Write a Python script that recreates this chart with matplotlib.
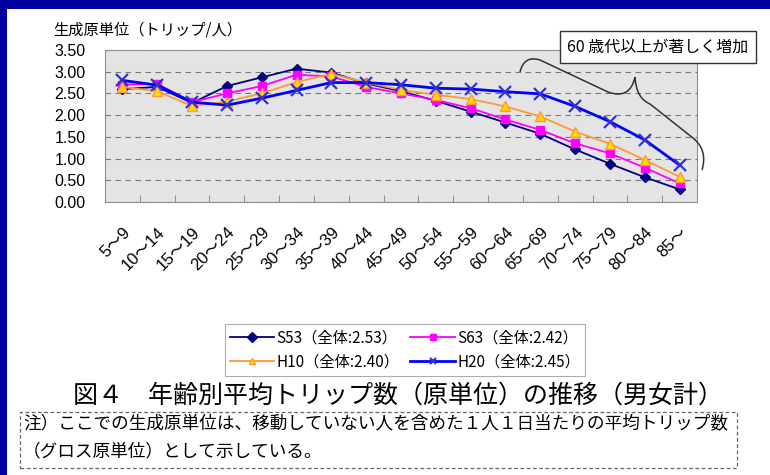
import matplotlib.pyplot as plt
import matplotlib.patches as mpatches
from matplotlib.path import Path

plt.rcParams['font.family'] = ['Noto Sans CJK JP', 'DejaVu Sans']

# age groups
ages = ['5～9', '10～14', '15～19', '20～24', '25～29', '30～34', '35～39', '40～44',
        '45～49', '50～54', '55～59', '60～64', '65～69', '70～74', '75～79', '80～84', '85～']

# trips per person
s53 = [2.60, 2.65, 2.28, 2.67, 2.87, 3.07, 2.98, 2.73, 2.55, 2.33, 2.08, 1.83, 1.57, 1.21, 0.88, 0.57, 0.29]
s63 = [2.70, 2.72, 2.30, 2.50, 2.67, 2.93, 2.89, 2.65, 2.50, 2.35, 2.16, 1.90, 1.66, 1.35, 1.12, 0.79, 0.43]
h10 = [2.65, 2.55, 2.21, 2.31, 2.50, 2.76, 2.95, 2.75, 2.58, 2.47, 2.37, 2.20, 1.97, 1.62, 1.34, 0.97, 0.58]
h20 = [2.80, 2.69, 2.30, 2.23, 2.39, 2.57, 2.75, 2.75, 2.70, 2.62, 2.60, 2.54, 2.49, 2.20, 1.85, 1.43, 0.85]

labels = ['S53（全体:2.53）', 'S63（全体:2.42）', 'H10（全体:2.40）', 'H20（全体:2.45）']

W, H = 770, 475
fig = plt.figure(figsize=(7.7, 4.75), dpi=100)
fig.patch.set_facecolor('white')

# blue frame (top and left)
fig.patches.append(mpatches.Rectangle((0, 1 - 9 / H), 1, 9 / H, transform=fig.transFigure,
                                      facecolor='#0000a0', edgecolor='none', zorder=0))
fig.patches.append(mpatches.Rectangle((0, 0), 7 / W, 1, transform=fig.transFigure,
                                      facecolor='#0000a0', edgecolor='none', zorder=0))

ax = fig.add_axes([105 / W, 1 - 202 / H, 592 / W, 152 / H])
ax.set_facecolor('#e4e4e4')

x = list(range(len(ages)))
l1, = ax.plot(x, s53, color='#000080', lw=1.3, marker='D', ms=5.5, mfc='#000080', mec='#000080', label=labels[0], zorder=3)
l2, = ax.plot(x, s63, color='#ff00ff', lw=1.3, marker='s', ms=6, mfc='#ff00ff', mec='#ff00ff', label=labels[1], zorder=3)
l3, = ax.plot(x, h10, color='#ff9933', lw=1.3, marker='^', ms=7, mfc='#ffdd00', mec='#ff9933', label=labels[2], zorder=3)
l4, = ax.plot(x, h20, color='#0000ff', lw=2.0, marker='x', ms=8, mew=1.6, mec='#3333cc', label=labels[3], zorder=3)

ax.set_xlim(-0.5, len(ages) - 0.5)
ax.set_ylim(0, 3.5)
ax.set_yticks([0, 0.5, 1.0, 1.5, 2.0, 2.5, 3.0, 3.5])
ax.set_yticklabels(['%.2f' % v for v in ax.get_yticks()], family='Liberation Sans', fontsize=11.5)
ax.set_xticks(x)
ax.set_xticklabels(ages, rotation=45, ha='right', rotation_mode='anchor', fontsize=12,
                   family=['Liberation Sans', 'Noto Sans CJK JP'])
ax.set_xticks([i + 0.5 for i in x[:-1]], minor=True)
ax.tick_params(axis='x', which='major', length=0, pad=16)
ax.tick_params(axis='x', which='minor', length=5, direction='in', color='#808080')
ax.tick_params(axis='y', length=0, pad=14)
for sp in ax.spines.values():
    sp.set_color('#909090')
ax.grid(axis='y', color='#777777', ls=(0, (5, 4)), lw=0.8)
ax.set_axisbelow(True)

fig.text(53 / W, 1 - 30 / H, '生成原単位（トリップ/人）', fontsize=11, va='center', ha='left')

# comment box and brace
fig.text(658 / W, 1 - 47 / H, '60 歳代以上が著しく増加', fontsize=11.5, ha='center', va='center',
         bbox=dict(boxstyle='square,pad=0.45', facecolor='white', edgecolor='#333333', lw=1))
pts = [(520, 72), (524, 55), (540, 60), (608, 92), (630, 100), (635, 77),
       (636, 98), (650, 104), (693, 138), (708, 150), (702, 170)]
codes = [Path.MOVETO, Path.CURVE3, Path.CURVE3, Path.LINETO, Path.CURVE3, Path.CURVE3,
         Path.CURVE3, Path.CURVE3, Path.LINETO, Path.CURVE3, Path.CURVE3]
brace = Path([(px / W, 1 - py / H) for px, py in pts], codes)
fig.patches.append(mpatches.PathPatch(brace, transform=fig.transFigure, facecolor='none',
                                      edgecolor='#333333', lw=1.1, zorder=5))

# legend: row 1 S53, S63 / row 2 H10, H20
leg = fig.legend([l1, l3, l2, l4], [labels[0], labels[2], labels[1], labels[3]],
                 loc='center', bbox_to_anchor=(405 / W, 1 - 350 / H), ncol=2, fontsize=11,
                 frameon=True, fancybox=False, edgecolor='#999999', handlelength=2.9,
                 columnspacing=0.7, handletextpad=0.15, borderpad=0.35, labelspacing=0.45,
                 borderaxespad=0)
leg.get_frame().set_linewidth(0.8)
for h in leg.legend_handles:
    h.set_markersize(5)

fig.text(398 / W, 1 - 396 / H, '図４　年齢別平均トリップ数（原単位）の推移（男女計）', fontsize=18,
         ha='center', va='center')

# note box
fig.patches.append(mpatches.Rectangle((20 / W, 1 - 468 / H), 717 / W, 56 / H, transform=fig.transFigure,
                                      facecolor='none', edgecolor='#666666', lw=0.9, ls=(0, (3, 2))))
fig.text(23 / W, 1 - 423 / H, '注）ここでの生成原単位は、移動していない人を含めた１人１日当たりの平均トリップ数',
         fontsize=12.7, ha='left', va='center')
fig.text(23 / W, 1 - 451 / H, '（グロス原単位）として示している。', fontsize=12.7, ha='left', va='center')

fig.savefig('out.png', dpi=100)
